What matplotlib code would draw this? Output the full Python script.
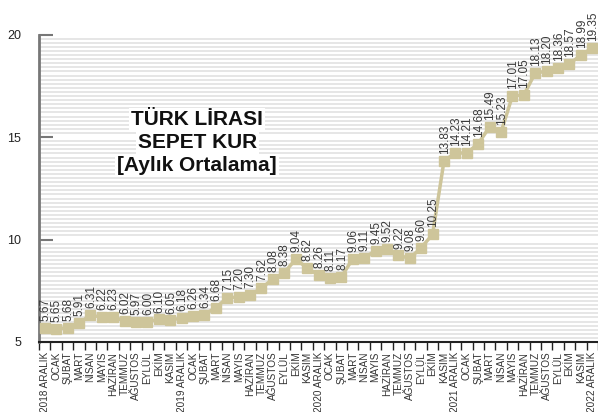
import numpy as np
import matplotlib
matplotlib.use('Agg')
import matplotlib.pyplot as plt
from matplotlib.ticker import MultipleLocator, FixedLocator

months = ['2018 ARALIK', 'OCAK', 'ŞUBAT', 'MART', 'NİSAN', 'MAYIS', 'HAZİRAN',
          'TEMMUZ', 'AĞUSTOS', 'EYLÜL', 'EKİM', 'KASIM',
          '2019 ARALIK', 'OCAK', 'ŞUBAT', 'MART', 'NİSAN', 'MAYIS', 'HAZİRAN',
          'TEMMUZ', 'AĞUSTOS', 'EYLÜL', 'EKİM', 'KASIM',
          '2020 ARALIK', 'OCAK', 'ŞUBAT', 'MART', 'NİSAN', 'MAYIS', 'HAZİRAN',
          'TEMMUZ', 'AĞUSTOS', 'EYLÜL', 'EKİM', 'KASIM',
          '2021 ARALIK', 'OCAK', 'ŞUBAT', 'MART', 'NİSAN', 'MAYIS', 'HAZİRAN',
          'TEMMUZ', 'AĞUSTOS', 'EYLÜL', 'EKİM', 'KASIM',
          '2022 ARALIK']
kur = [5.67, 5.65, 5.68, 5.91, 6.31, 6.22, 6.23, 6.02, 5.97, 6.00, 6.10, 6.05,
       6.18, 6.26, 6.34, 6.68, 7.15, 7.20, 7.30, 7.62, 8.08, 8.38, 9.04, 8.62,
       8.26, 8.11, 8.17, 9.06, 9.11, 9.45, 9.52, 9.22, 9.08, 9.60, 10.25, 13.83,
       14.23, 14.21, 14.68, 15.49, 15.23, 17.01, 17.05, 18.13, 18.20, 18.36, 18.57, 18.99,
       19.35]
y_ticks = [5, 10, 15, 20]

plt.rcParams['font.family'] = ['Liberation Sans', 'DejaVu Sans']

renk = '#cec59a'
x = np.arange(len(kur))

fig = plt.figure(figsize=(5.98, 4.12), dpi=100)
ax = fig.add_axes([39 / 598, 70 / 412, 559 / 598, 307.5 / 412])

# arka plandaki ince cizgiler
ax.yaxis.set_minor_locator(MultipleLocator(0.2))
ax.grid(which='minor', axis='y', color='#e6e6e6', lw=1.4, zorder=0)
ax.set_axisbelow(True)

ax.plot(x, kur, color=renk, lw=2.5, marker='s', ms=7.8, mec=renk, mfc=renk, zorder=3, clip_on=False)

for xi, v in zip(x, kur):
    ax.annotate(f'{v:.2f}', (xi, v), xytext=(0.5, 5), textcoords='offset points',
                rotation=90, ha='center', va='bottom', fontsize=8.5, color='#3a3a3a',
                annotation_clip=False)

ax.set_xlim(-0.5, len(kur) - 0.5)
ax.set_ylim(5, 20)
ax.set_yticks(y_ticks)
ax.set_yticklabels([str(t) for t in y_ticks], fontsize=9, color='#222222')
ax.tick_params(axis='y', which='major', direction='in', length=10, width=1.5, color='#777777', pad=13)
ax.tick_params(axis='y', which='minor', length=0)

ax.set_xticks(x)
ax.set_xticklabels(months, rotation=90, fontsize=7.2, color='#333333', va='top')
ax.xaxis.set_minor_locator(FixedLocator(np.arange(-0.5, len(kur), 1)))
ax.tick_params(axis='x', which='major', length=0, pad=7)
ax.tick_params(axis='x', which='minor', direction='out', length=6, width=1, color='#222222')

for s in ['top', 'right']:
    ax.spines[s].set_visible(False)
ax.spines['left'].set_color('#777777')
ax.spines['left'].set_linewidth(2)
ax.spines['bottom'].set_color('#222222')
ax.spines['bottom'].set_linewidth(1.5)

baslik = ['TÜRK LİRASI', 'SEPET KUR', '[Aylık Ortalama]']
for i, t in enumerate(baslik):
    ax.text(0.283, 0.723 - i * 0.074, t, transform=ax.transAxes, ha='center', va='center',
            fontsize=15, fontweight='bold', color='#111111',
            bbox=dict(facecolor='white', edgecolor='none', pad=1.5), zorder=4)

fig.savefig('out.png', dpi=100)
